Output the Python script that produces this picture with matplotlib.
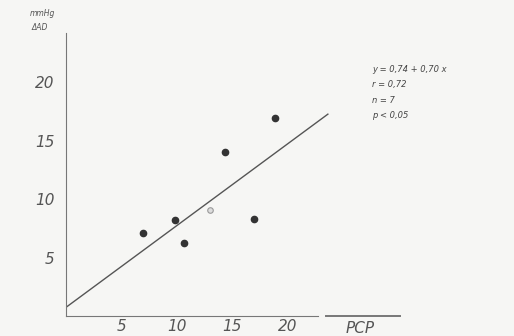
import numpy as np
import matplotlib
matplotlib.use("Agg")
import matplotlib.pyplot as plt

# PCP vs change in arterial pressure, 7 cases
pcp = [6.9, 9.8, 10.6, 13.0, 14.3, 16.9, 18.8]
dad = [7.1, 8.2, 6.2, 9.1, 14.0, 8.3, 16.9]
solid = [True, True, True, False, True, True, True]
xticks = [5, 10, 15, 20]
yticks = [5, 10, 15, 20]
fit_a, fit_b = 0.74, 0.70
stats = ["y = 0,74 + 0,70 x", "r = 0,72", "n = 7", "p < 0,05"]

ink = "#444444"
bg = "#f6f6f4"

fig = plt.figure(figsize=(5.14, 3.36), dpi=100, facecolor=bg)
ax = fig.add_axes([66/514, 20/336, 334/514, 283/336], facecolor=bg)

xs = np.array([0, 23.6])
ax.plot(xs, fit_a + fit_b*xs, color="#555555", lw=1.0)

for x, y, s in zip(pcp, dad, solid):
    if s:
        ax.plot(x, y, "o", ms=4.5, color="#333333")
    else:
        ax.plot(x, y, "o", ms=4, mfc="#dddddd", mec="#999999", mew=0.8)

ax.set_xlim(0, 30.1)
ax.set_ylim(0, 24.2)
for s in ["top", "right"]:
    ax.spines[s].set_visible(False)
ax.spines["left"].set_color("#777777")
ax.spines["bottom"].set_color("#777777")
ax.spines["bottom"].set_bounds(0, 22.7)
ax.axhline(0, xmin=23.4/30.1, xmax=1.0, color="#777777", lw=1.4, clip_on=False)

ax.set_xticks(xticks)
ax.set_yticks(yticks)
ax.tick_params(length=0, labelsize=11, colors="#555555", pad=2)
for t in ax.get_xticklabels() + ax.get_yticklabels():
    t.set_fontstyle("italic")
ax.tick_params(axis="y", pad=8)
ax.text(26.5, -0.4, "PCP", fontsize=11, style="italic", color="#555555",
        ha="center", va="top")

fig.text(42/514, 1 - 14/336, "mmHg", fontsize=5.5, style="italic", color="#555555", ha="center", va="center")
fig.text(40/514, 1 - 27/336, "ΔAD", fontsize=5.5, style="italic", color="#555555", ha="center", va="center")

for i, line in enumerate(stats):
    fig.text(372/514, 1 - (70 + i*15)/336, line, fontsize=6, style="italic",
             color="#444444", ha="left", va="center")

plt.savefig("out.png", dpi=100, facecolor=bg)
